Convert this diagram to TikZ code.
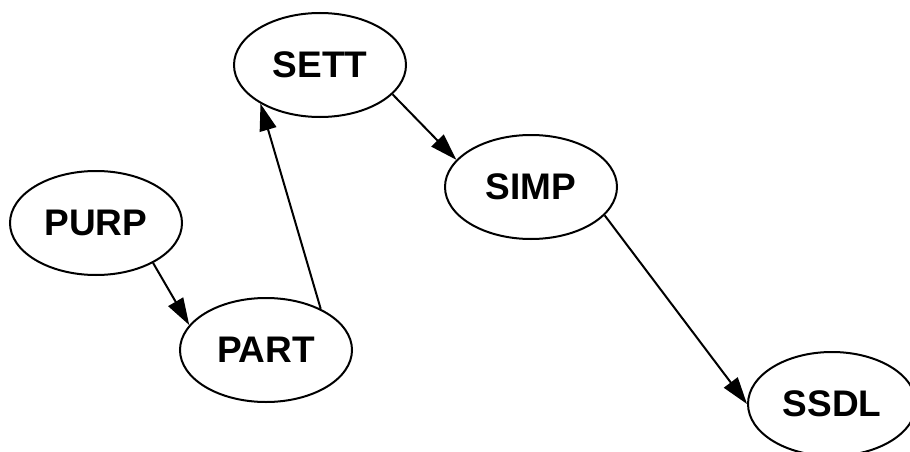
\documentclass[tikz,border=0pt]{standalone}
\usepackage{fontspec}
\setmainfont{Liberation Sans}
\usetikzlibrary{shapes.geometric,arrows.meta}
\begin{document}
\begin{tikzpicture}[x=1pt,y=-1pt,
  nd/.style={ellipse,draw,line width=2pt,minimum width=172pt,minimum height=104pt,inner sep=0pt,font=\fontsize{37}{42}\selectfont\bfseries},
  edge/.style={line width=2pt,-{Triangle[length=27pt,width=17pt]}}]
\useasboundingbox (0,0) rectangle (910,452);
\node[nd] (SETT) at (320,65) {SETT};
\node[nd] (PURP) at (96,223) {PURP};
\node[nd] (PART) at (266,350) {PART};
\node[nd] (SIMP) at (531,187) {SIMP};
\node[nd,minimum width=168pt] (SSDL) at (832,404) {SSDL};
\draw[edge] (PURP.-35) -- (PART.162);
\draw[edge] (PART.37) -- (SETT.213);
\draw[edge] (SETT.-22) -- (SIMP.160);
\draw[edge] (SIMP.-21) -- (SSDL.180);
\end{tikzpicture}
\end{document}
